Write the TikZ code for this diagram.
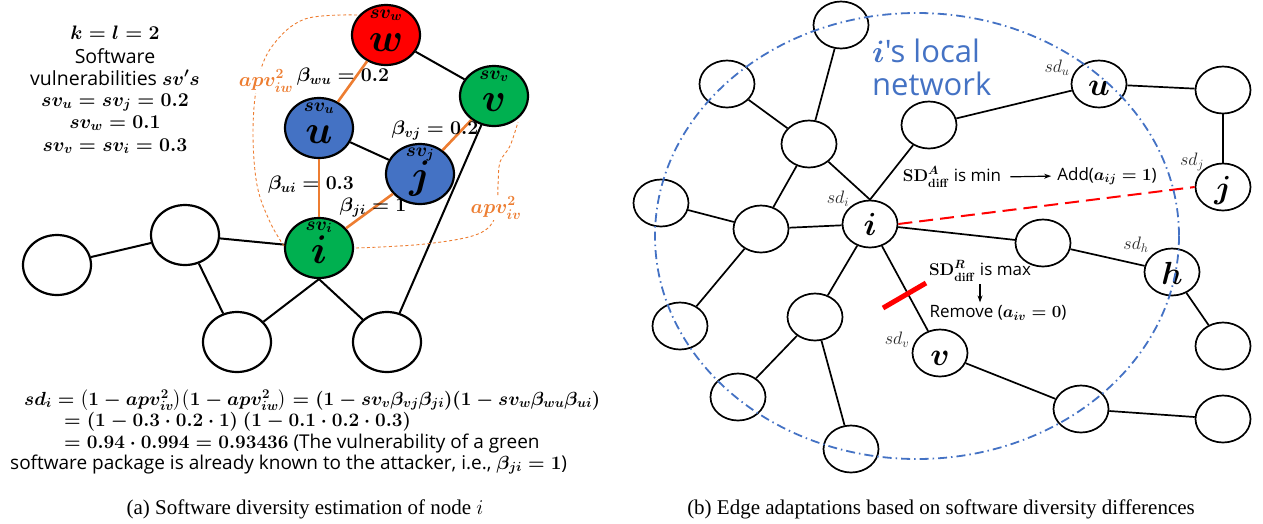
\RequirePackage{fix-cm}
\documentclass[tikz,border=0pt]{standalone}
\usepackage{amsmath,bm}
\usepackage[no-math]{fontspec}
\setmainfont{Liberation Serif}
\newfontfamily\osans{Open Sans}
\usetikzlibrary{shapes.geometric,arrows.meta,calc}
\definecolor{orng}{HTML}{ED7D31}
\definecolor{bluN}{HTML}{4472C4}
\definecolor{grn}{HTML}{00B050}
\definecolor{redN}{HTML}{FF0000}
\tikzset{
  lnode/.style={ellipse, draw=black, line width=2.2pt, minimum width=68pt, minimum height=60pt, inner sep=0pt},
  rnode/.style={ellipse, draw=black, line width=1.7pt, minimum width=55pt, minimum height=47pt, inner sep=0pt, fill=white},
  bedge/.style={line width=2pt},
  redge/.style={line width=1.7pt},
  oedge/.style={draw=orng, line width=2.6pt},
  odash/.style={draw=orng, line width=0.9pt, dash pattern=on 3pt off 2.5pt},
  bigl/.style={font=\fontsize{40}{40}\selectfont\boldmath, anchor=base, inner sep=0pt},
  bigr/.style={font=\fontsize{32}{32}\selectfont\boldmath, anchor=base, inner sep=0pt},
  svl/.style={font=\fontsize{19}{19}\selectfont\boldmath, anchor=base, inner sep=0pt},
  sdl/.style={font=\fontsize{18}{18}\selectfont, text=black!85, inner sep=0pt},
  ltxt/.style={font=\osans\fontsize{19.5}{22}\selectfont\boldmath, anchor=base, inner sep=0pt},
  btxt/.style={font=\osans\fontsize{19.5}{22}\selectfont\boldmath, inner sep=0pt},
  ftxt/.style={font=\osans\fontsize{19}{22}\selectfont\boldmath, anchor=base west, inner sep=0pt},
  otxt/.style={font=\fontsize{20}{22}\selectfont\boldmath, text=orng, fill=white, inner sep=1pt},
  rtxt/.style={font=\osans\fontsize{17}{20}\selectfont\boldmath, inner sep=0pt},
  captxt/.style={font=\fontsize{21}{24}\selectfont, anchor=base, inner sep=0pt},
  arr/.style={-{Stealth[length=7pt,width=5pt]}, line width=1.2pt},
}
\begin{document}
\begin{tikzpicture}[x=1pt,y=-1pt]
\useasboundingbox (0,0) rectangle (1263,523);

% ---------------- left panel ----------------
\node[lnode, fill=redN] (Lw) at (386,35) {};
\node[lnode, fill=grn] (Lv) at (494,96) {};
\node[lnode, fill=bluN] (Lu) at (319,128) {};
\node[lnode, fill=bluN] (Lj) at (420,174) {};
\node[lnode, fill=grn] (Li) at (319,248) {};
\node[lnode] (L1) at (57,265) {};
\node[lnode] (L2) at (185,235) {};
\node[lnode] (L3) at (237,342) {};
\node[lnode] (L4) at (387,342) {};

\draw[bedge] (Lw) -- (Lv);
\draw[bedge] (Lu) -- (Lj);
\draw[bedge] (Lv) -- (L4);
\draw[bedge] (L1) -- (L2);
\draw[bedge] (L2) -- (Li);
\draw[bedge] (L2) -- (L3);
\draw[bedge] (Li.south) -- (L3);
\draw[bedge] (Li.south) -- (L4);
\draw[oedge] (Lw) -- (Lu);
\draw[oedge] (Lu) -- (Li);
\draw[oedge] (Lj) -- (Lv);
\draw[oedge] (Lj) -- (Li);

% dashed orange curves
\draw[odash] plot[smooth, tension=0.6] coordinates {(357,15) (305,19) (273,45) (258,80) (253,130) (257,185) (270,222) (284,246)};
\draw[odash] plot[smooth, tension=0.6] coordinates {(356,248) (425,244) (478,234) (496,215) (498,185) (500,162) (510,146) (518,122)};

% node texts
\node[svl] (sw) at ($(Lw)+(0,-17)$) {$sv_w$};
\node[bigl] (lw) at ($(Lw)+(0,16)$) {$w$};
\node[svl] (sv) at ($(Lv)+(0,-17)$) {$sv_v$};
\node[bigl] (lv) at ($(Lv)+(0,15)$) {$v$};
\node[svl] (su) at ($(Lu)+(0,-17)$) {$sv_u$};
\node[bigl] (lu) at ($(Lu)+(0,15)$) {$u$};
\node[svl] (sj) at ($(Lj)+(0,-18)$) {$sv_j$};
\node[bigl] (lj) at ($(Lj)+(0,14)$) {$j$};
\node[svl] (si) at ($(Li)+(0,-18)$) {$sv_i$};
\node[bigl] (li) at ($(Li)+(0,15)$) {$i$};

% edge labels
\node[btxt] (bwu) at (343,77) {$\beta_{wu} = 0.2$};
\node[btxt] (bvj) at (435,131) {$\beta_{vj} = 0.2$};
\node[btxt] (bui) at (311,185) {$\beta_{ui} = 0.3$};
\node[btxt] (bji) at (373,208) {$\beta_{ji} = 1$};
\node[otxt] (aiw) at (266,81) {$apv^2_{iw}$};
\node[otxt] (aiv) at (496,208) {$apv^2_{iv}$};

% left text block
\node[ltxt] (t1) at (115,39) {$k = l = 2$};
\node[ltxt] (t2) at (115,63) {Software};
\node[ltxt] (t3) at (115,85) {vulnerabilities $sv's$};
\node[ltxt] (t4) at (115,106) {$sv_u = sv_j = 0.2$};
\node[ltxt] (t5) at (115,128) {$sv_w = 0.1$};
\node[ltxt] (t6) at (115,151) {$sv_v = sv_i = 0.3$};

% formula
\node[ftxt] (f1) at (24,405) {$sd_i = \big(1 - apv^2_{iv}\big)\big(1 - apv^2_{iw}\big) = (1 - sv_v\beta_{vj}\beta_{ji})(1 - sv_w\beta_{wu}\beta_{ui})$};
\node[ftxt] (f2) at (64,426) {$= (1 - 0.3 \cdot 0.2 \cdot 1)\ (1 - 0.1 \cdot 0.2 \cdot 0.3)$};
\node[ftxt] (f3) at (64,448) {$= 0.94 \cdot 0.994 = 0.93436$ (The vulnerability of a green};
\node[ftxt] (f4) at (10,469) {software package is already known to the attacker, i.e., $\beta_{ji} = 1$)};

\node[captxt] (capa) at (305,514) {(a) Software diversity estimation of node $i$};

% ---------------- right panel ----------------
\node[rnode] (A1) at (841,25) {};
\node[rnode] (A2) at (727,84) {};
\node[rnode] (A3) at (809,144) {};
\node[rnode] (A4) at (929,125) {};
\node[rnode] (A5) at (661,203) {};
\node[rnode] (A6) at (761,229) {};
\node[rnode] (Ri) at (870,224) {};
\node[rnode] (B1) at (680,326) {};
\node[rnode] (B2) at (815,317) {};
\node[rnode] (B3) at (738,397) {};
\node[rnode] (B4) at (851,449) {};
\node[rnode] (Rv) at (940,353) {};
\node[rnode] (Ru) at (1099,84) {};
\node[rnode] (D1) at (1223,90) {};
\node[rnode] (Rj) at (1223,187) {};
\node[rnode] (C1) at (1043,243) {};
\node[rnode] (Rh) at (1172,272) {};
\node[rnode] (D2) at (1223,346) {};
\node[rnode] (D3) at (1081,409) {};
\node[rnode] (D4) at (1223,419) {};

\draw[redge] (A1) -- (A3);
\draw[redge] (A2) -- (A3);
\draw[redge] (A3) -- (Ri.north);
\draw[redge] (A3) -- (A6);
\draw[redge] (A5) -- (A6);
\draw[redge] (A6) -- (Ri);
\draw[redge] (A6) -- (B1);
\draw[redge] (Ri.north) -- (A4);
\draw[redge] (A4) -- (Ru);
\draw[redge] (Ru) -- (D1);
\draw[redge] (D1) -- (Rj);
\draw[redge] (Ri) -- (C1);
\draw[redge] (C1) -- (Rh);
\draw[redge] (Rh) -- (D2);
\draw[redge] (Ri) -- (B2);
\draw[redge] (B2) -- (B3);
\draw[redge] (B2) -- (B4);
\draw[redge] (Ri) -- (Rv);
\draw[redge] (Rv) -- (D3);
\draw[redge] (D3) -- (D4);
\draw[draw=redN, line width=2pt, dash pattern=on 14pt off 7pt] (Ri.east) -- (Rj.west);

% cut mark
\coordinate (cutA) at (883,308);
\coordinate (cutB) at (926,283);
\draw[draw=redN, line width=5pt] (cutA) -- (cutB);

% letters
\node[bigr] (ri) at ($(Ri)+(0,11)$) {$i$};
\node[bigr] (ru) at ($(Ru)+(0,11)$) {$u$};
\node[bigr] (rv) at ($(Rv)+(0,12)$) {$v$};
\node[bigr] (rj) at ($(Rj)+(0,11)$) {$j$};
\node[bigr] (rh) at ($(Rh)+(0,12)$) {$h$};

\node[sdl] (sdi) at (838,199) {$sd_i$};
\node[sdl] (sdu) at (1057,68) {$sd_u$};
\node[sdl] (sdj) at (1192,162) {$sd_j$};
\node[sdl] (sdh) at (1136,245) {$sd_h$};
\node[sdl] (sdv) at (897,340) {$sd_v$};

% local network ellipse
\draw[draw=bluN, line width=1.8pt, dash pattern=on 9pt off 4pt on 1.5pt off 4pt] (917,236) ellipse [x radius=262, y radius=223];
\node[font=\osans\fontsize{31}{34}\selectfont\boldmath, text=bluN, anchor=base west, inner sep=0pt] (loc1) at (872,62) {$i$'s local};
\node[font=\osans\fontsize{31}{34}\selectfont, text=bluN, anchor=base west, inner sep=0pt] (loc2) at (872,95) {network};

% annotations
\node[rtxt] (sdA) at (952,177) {$\mathbf{SD}^{A}_{\mathbf{diff}}$ is min};
\node[rtxt] (add) at (1107,176) {Add($a_{ij} = 1$)};
\node[rtxt] (sdR) at (980,271) {$\mathbf{SD}^{R}_{\mathbf{diff}}$ is max};
\node[rtxt] (rem) at (998,313) {Remove ($a_{iv} = 0$)};
\draw[arr, shorten <=9pt, shorten >=6pt] (sdA.east) -- (add.west);
\draw[arr, shorten <=3pt, shorten >=3pt] (sdR.south) -- (sdR.south |- rem.north);

\node[captxt] (capb) at (941,514) {(b) Edge adaptations based on software diversity differences};
\end{tikzpicture}
\end{document}
